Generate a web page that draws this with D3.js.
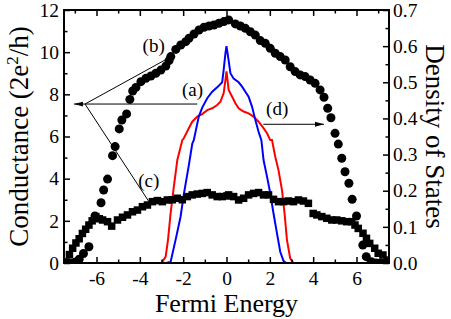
<!DOCTYPE html>
<html><head><meta charset="utf-8">
<script src="https://cdn.jsdelivr.net/npm/d3@7/dist/d3.min.js"></script>
<style>body{margin:0;background:#fff}svg{display:block}
svg text{font-family:"Liberation Serif","Times New Roman",Times,"DejaVu Serif",serif !important;}</style>
</head><body><svg id="c" width="451" height="319"></svg>
<script>
// (b) conductance, circles: [energy, conductance]
const circlesB = [[-7.4,0.0],[-7.2,0.0],[-7.0,0.03],[-6.8,0.18],[-6.6,0.45],[-6.35,0.77],[-6.07,2.23],[-5.79,2.86],[-5.67,3.46],[-5.49,3.98],[-5.26,5.09],[-5.14,5.52],[-4.95,6.36],[-4.83,6.78],[-4.61,7.07],[-4.46,7.76],[-4.33,8.16],[-4.18,8.33],[-3.95,8.6],[-3.72,8.76],[-3.49,8.87],[-3.26,9.0],[-3.03,9.15],[-2.8,9.34],[-2.65,9.6],[-2.57,9.79],[-2.34,10.13],[-2.11,10.34],[-1.88,10.5],[-1.73,10.66],[-1.5,10.86],[-1.27,11.05],[-1.04,11.18],[-0.81,11.24],[-0.58,11.29],[-0.35,11.37],[-0.12,11.45],[0.1,11.53],[0.41,11.34],[0.64,11.24],[0.87,11.13],[1.1,10.97],[1.33,10.81],[1.56,10.55],[1.79,10.42],[2.02,10.18],[2.25,9.95],[2.48,9.79],[2.71,9.63],[2.94,9.31],[3.17,9.08],[3.4,8.92],[3.63,8.84],[3.86,8.68],[4.09,8.52],[4.32,8.21],[4.5,7.86],[4.67,7.34],[4.82,6.89],[5.01,6.15],[5.16,5.64],[5.32,4.97],[5.47,4.33],[5.65,3.78],[5.8,3.02],[6.0,2.23],[6.29,0.85],[6.45,0.3],[6.68,0.06],[6.9,0.0],[7.1,0.0],[7.3,0.0]];
// (c) conductance, squares
const squaresC = [[-7.4,0.05],[-7.25,0.4],[-7.1,0.7],[-6.95,0.95],[-6.8,1.15],[-6.65,1.4],[-6.5,1.6],[-6.35,1.8],[-6.2,2.0],[-6.03,2.2],[-5.87,2.1],[-5.72,2.04],[-5.49,1.96],[-5.3,1.75],[-5.03,2.04],[-4.8,2.17],[-4.57,2.28],[-4.34,2.43],[-4.11,2.51],[-3.88,2.67],[-3.65,2.75],[-3.42,2.91],[-3.19,2.96],[-2.96,2.91],[-2.73,2.99],[-2.5,3.0],[-2.27,3.07],[-2.04,3.0],[-1.81,3.15],[-1.58,3.23],[-1.35,3.27],[-1.12,3.3],[-0.89,3.34],[-0.66,3.23],[-0.43,3.15],[-0.2,3.15],[0.02,3.18],[0.1,3.23],[0.33,3.15],[0.56,2.99],[0.79,3.07],[1.02,3.23],[1.25,3.3],[1.48,3.34],[1.71,3.23],[1.94,3.23],[2.17,3.02],[2.4,2.91],[2.63,2.91],[2.86,2.94],[3.09,2.91],[3.32,2.99],[3.55,2.94],[3.78,2.83],[4.0,2.35],[4.17,2.28],[4.4,2.2],[4.63,2.12],[4.86,2.04],[5.09,2.04],[5.32,2.0],[5.55,1.96],[5.78,1.96],[5.93,1.8],[6.08,1.64],[6.3,1.41],[6.46,1.17],[6.61,0.93],[6.84,0.7],[7.0,0.46],[7.22,0.38],[7.44,0.14]];
// (a) density of states, blue line
const dosBlue = [[-7.5,0],[-2.8,0],[-2.58,0.003],[-2.35,0.064],[-2.12,0.128],[-1.97,0.19],[-1.74,0.27],[-1.58,0.33],[-1.51,0.34],[-1.28,0.405],[-1.12,0.43],[-0.89,0.456],[-0.66,0.474],[-0.43,0.486],[-0.2,0.5],[-0.13,0.534],[-0.05,0.58],[0.0,0.6],[0.1,0.56],[0.18,0.525],[0.33,0.51],[0.56,0.5],[0.72,0.488],[0.87,0.474],[1.02,0.46],[1.18,0.432],[1.33,0.396],[1.48,0.363],[1.61,0.34],[1.71,0.285],[1.87,0.239],[2.02,0.193],[2.17,0.137],[2.33,0.082],[2.48,0.031],[2.63,0.006],[2.75,0],[7.5,0]];
// (d) density of states, red line
const dosRed = [[-7.5,0],[-3.0,0],[-2.81,0.017],[-2.7,0.064],[-2.58,0.137],[-2.43,0.211],[-2.27,0.285],[-2.04,0.34],[-1.97,0.345],[-1.74,0.373],[-1.58,0.391],[-1.35,0.405],[-1.12,0.412],[-0.89,0.423],[-0.66,0.428],[-0.43,0.437],[-0.28,0.446],[-0.13,0.47],[-0.05,0.506],[0.0,0.53],[0.1,0.479],[0.26,0.46],[0.41,0.442],[0.56,0.428],[0.79,0.419],[1.02,0.414],[1.25,0.405],[1.48,0.391],[1.71,0.373],[1.87,0.359],[2.02,0.34],[2.1,0.34],[2.25,0.294],[2.4,0.257],[2.56,0.202],[2.68,0.137],[2.79,0.064],[2.94,0.013],[3.09,0],[7.5,0]];

const xTicks = [-6,-4,-2,0,2,4,6];
const xMinorTicks = [-7,-5,-3,-1,1,3,5,7];
const yLeftTicks = [0,2,4,6,8,10,12];
const yLeftMinorTicks = [1,3,5,7,9,11];
const yRightTicks = [0,0.1,0.2,0.3,0.4,0.5,0.6,0.7];
const yRightMinorTicks = [0.05,0.15,0.25,0.35,0.45,0.55,0.65];

// annotation anchor points in data units (energy, conductance)
const hub = [-6.53, 7.54];
const arrowATip = [-7.04, 7.54];
const arrowAStart = [-1.35, 7.54];
const lineBEnd = [-2.78, 9.66];
const lineCEnd = [-3.58, 2.91];
const arrowDStart = [1.7, 6.58];
const arrowDEnd = [4.5, 6.58];
const labels = [{t:"(b)", p:[-3.36,10.34]},{t:"(a)", p:[-1.57,8.25]},{t:"(c)", p:[-3.59,3.94]},{t:"(d)", p:[2.34,7.35]}];

const W=451,H=319, m={l:64,r:62,t:10,b:56};
const font = "Liberation Serif";
const svg = d3.select("#c");
svg.append("rect").attr("width",W).attr("height",H).attr("fill","#fff");
const x = d3.scaleLinear().domain([-7.5,7.5]).range([m.l, W-m.r]);
const y = d3.scaleLinear().domain([0,12]).range([H-m.b, m.t]);
const y2 = d3.scaleLinear().domain([0,0.7]).range([H-m.b, m.t]);

const plot = svg.append("g");
svg.append("clipPath").attr("id","cp").append("rect")
  .attr("x",m.l).attr("y",m.t).attr("width",W-m.l-m.r).attr("height",H-m.t-m.b);

const line2 = d3.line().x(d=>x(d[0])).y(d=>y2(d[1]));
plot.append("path").datum(dosRed).attr("d",line2).attr("fill","none").attr("stroke","#ff0000").attr("stroke-width",2).attr("clip-path","url(#cp)");
plot.append("path").datum(dosBlue).attr("d",line2).attr("fill","none").attr("stroke","#0000ff").attr("stroke-width",2).attr("clip-path","url(#cp)");

plot.selectAll("rect.sq").data(squaresC).join("rect").attr("class","sq")
  .attr("x",d=>x(d[0])-3.75).attr("y",d=>y(d[1])-3.75).attr("width",7.5).attr("height",7.5).attr("fill","#000")
  .attr("clip-path","url(#cp)");
plot.selectAll("circle.ci").data(circlesB).join("circle").attr("class","ci")
  .attr("cx",d=>x(d[0])).attr("cy",d=>y(d[1])).attr("r",4.5).attr("fill","#000")
  .attr("clip-path","url(#cp)");

// annotations
svg.append("defs").append("marker").attr("id","ah").attr("markerUnits","userSpaceOnUse")
  .attr("markerWidth",10).attr("markerHeight",6).attr("refX",9).attr("refY",3).attr("orient","auto")
  .append("path").attr("d","M0,0.6L9,3L0,5.4z").attr("fill","#000");
const ann = svg.append("g").attr("stroke","#000").attr("stroke-width",1);
const seg = (a,b)=>ann.append("line").attr("x1",x(a[0])).attr("y1",y(a[1])).attr("x2",x(b[0])).attr("y2",y(b[1]));
seg(hub, lineBEnd);
seg(hub, lineCEnd);
seg(arrowAStart, arrowATip).attr("marker-end","url(#ah)");
seg(arrowDStart, arrowDEnd).attr("marker-end","url(#ah)");
svg.selectAll("text.lab").data(labels).join("text").attr("class","lab")
  .attr("x",d=>x(d.p[0])).attr("y",d=>y(d.p[1])).attr("dy","0.35em").attr("text-anchor","middle")
  .attr("font-family",font).attr("font-size",19).text(d=>d.t);

// axes
function styleAxis(g){
  g.attr("font-family",font);
  g.select(".domain").remove();
  g.selectAll("line").attr("stroke","#000").attr("stroke-width",1.5);
  g.selectAll("text").attr("font-family",font).attr("font-size",19.5).attr("fill","#000");
}
const fmt = d=>String(d);
svg.append("g").attr("transform",`translate(0,${H-m.b})`)
  .call(d3.axisBottom(x).tickValues(xTicks).tickSize(-6).tickPadding(8).tickFormat(fmt)).call(styleAxis);
svg.append("g").attr("transform",`translate(0,${H-m.b})`)
  .call(d3.axisBottom(x).tickValues(xMinorTicks).tickSize(-3.5).tickFormat("")).call(styleAxis);
svg.append("g").attr("transform",`translate(0,${m.t})`)
  .call(d3.axisTop(x).tickValues(xTicks).tickSize(-6).tickFormat("")).call(styleAxis);
svg.append("g").attr("transform",`translate(0,${m.t})`)
  .call(d3.axisTop(x).tickValues(xMinorTicks).tickSize(-3.5).tickFormat("")).call(styleAxis);
svg.append("g").attr("transform",`translate(${m.l},0)`)
  .call(d3.axisLeft(y).tickValues(yLeftTicks).tickSize(-6).tickPadding(5).tickFormat(fmt)).call(styleAxis);
svg.append("g").attr("transform",`translate(${m.l},0)`)
  .call(d3.axisLeft(y).tickValues(yLeftMinorTicks).tickSize(-3.5).tickFormat("")).call(styleAxis);
svg.append("g").attr("transform",`translate(${W-m.r},0)`)
  .call(d3.axisRight(y2).tickValues(yRightTicks).tickSize(-6).tickPadding(4).tickFormat(d3.format(".1f"))).call(styleAxis);
svg.append("g").attr("transform",`translate(${W-m.r},0)`)
  .call(d3.axisRight(y2).tickValues(yRightMinorTicks).tickSize(-3.5).tickFormat("")).call(styleAxis);

svg.append("rect").attr("x",m.l).attr("y",m.t).attr("width",W-m.l-m.r).attr("height",H-m.t-m.b)
  .attr("fill","none").attr("stroke","#000").attr("stroke-width",2);

// titles
svg.append("text").attr("x",(m.l+W-m.r)/2).attr("y",312).attr("text-anchor","middle")
  .attr("font-family",font).attr("font-size",26).text("Fermi Energy");
const lt = svg.append("text").attr("transform",`translate(28,${(m.t+H-m.b)/2}) rotate(-90)`).attr("text-anchor","middle")
  .attr("font-family",font).attr("font-size",27);
lt.append("tspan").text("Conductance (2e");
lt.append("tspan").attr("font-size",17).attr("dy",-10).text("2");
lt.append("tspan").attr("dy",10).text("/h)");
svg.append("text").attr("transform",`translate(426,${(m.t+H-m.b)/2}) rotate(90)`).attr("text-anchor","middle")
  .attr("font-family",font).attr("font-size",27).text("Density of States");
</script></body></html>
